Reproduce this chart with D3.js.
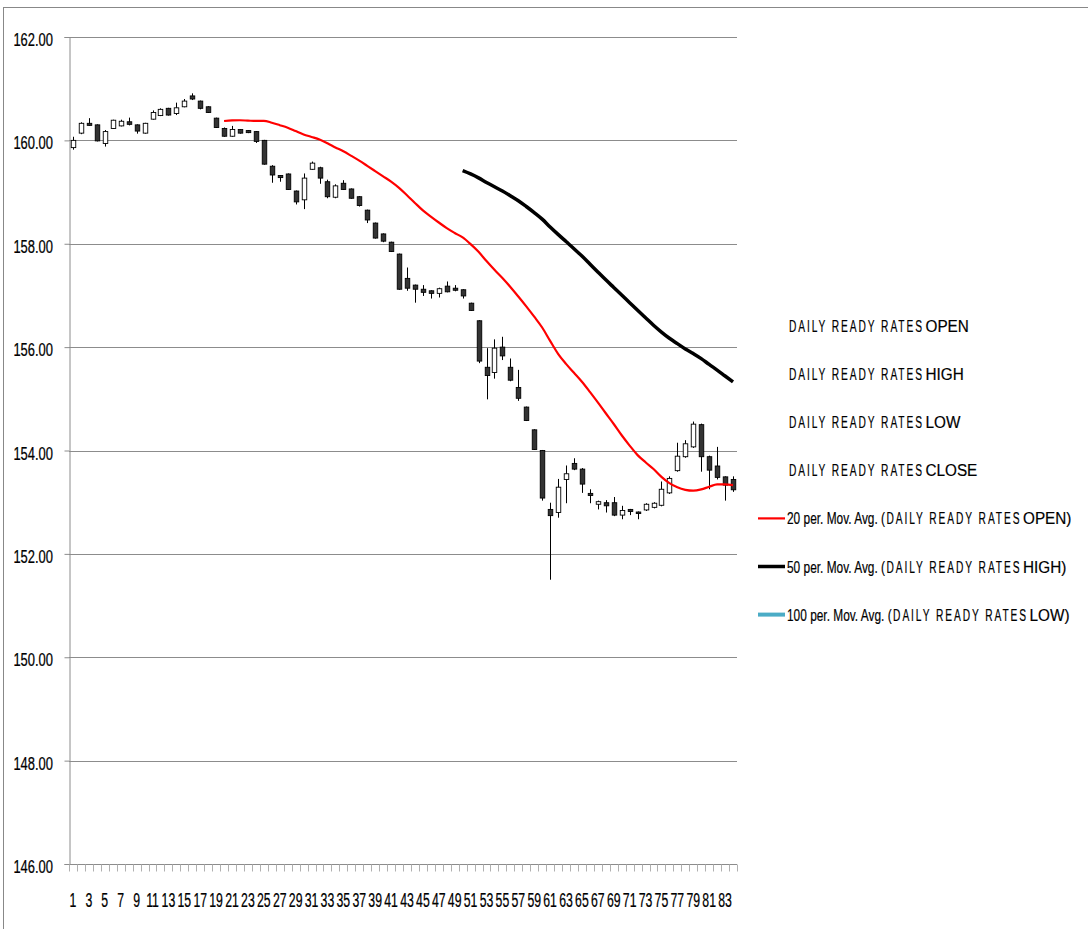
<!DOCTYPE html>
<html><head><meta charset="utf-8">
<script src="https://cdn.jsdelivr.net/npm/d3@7"></script>
<style>
html,body{margin:0;padding:0;background:#fff;}
text{font-family:"Liberation Sans",Arial,sans-serif;fill:#000;}
</style></head>
<body>
<svg id="c" width="1088" height="929"></svg>
<script>
const categories = d3.range(1, 85);
const openVals = [159.86,160.14,160.33,160.30,159.94,160.23,160.28,160.36,160.30,160.14,160.41,160.48,160.62,160.52,160.65,160.86,160.76,160.65,160.43,160.23,
160.08,160.21,160.19,160.17,160.00,159.50,159.32,159.35,159.02,158.85,159.44,159.47,159.20,158.90,159.17,159.06,158.91,158.65,158.40,158.19,
158.03,157.80,157.33,157.20,157.12,157.09,157.04,157.18,157.14,157.11,156.85,156.51,155.61,155.51,156.00,155.61,155.22,154.84,154.40,154.00,
152.86,152.80,153.44,153.75,153.64,153.17,152.96,152.99,152.99,152.75,152.86,152.81,152.85,152.90,152.94,153.18,153.61,153.88,154.07,154.50,
153.88,153.70,153.49,153.44];
const highVals = [160.07,160.35,160.43,160.31,160.20,160.40,160.40,160.44,160.31,160.34,160.58,160.62,160.63,160.73,160.80,160.91,160.77,160.66,160.44,160.25,
160.28,160.22,160.20,160.18,160.01,159.52,159.33,159.36,159.03,159.36,159.59,159.49,159.24,159.15,159.23,159.07,158.92,158.66,158.41,158.20,
158.04,157.81,157.54,157.21,157.20,157.10,157.15,157.27,157.20,157.12,156.86,156.52,155.98,156.15,156.20,155.78,155.56,154.85,154.41,154.01,
152.99,153.45,153.71,153.85,153.66,153.25,153.03,153.04,153.10,152.93,152.87,152.82,152.98,153.00,153.40,153.50,154.15,154.20,154.56,154.52,
153.90,154.07,153.50,153.50];
const lowVals = [159.82,160.12,160.28,159.98,159.88,160.22,160.27,160.29,160.13,160.13,160.40,160.47,160.48,160.49,160.64,160.78,160.60,160.53,160.24,160.07,
160.07,160.13,160.14,159.95,159.53,159.18,159.20,159.04,158.76,158.67,159.43,159.16,158.88,158.88,159.04,158.87,158.72,158.40,158.10,158.03,
157.84,157.11,157.09,156.86,156.99,156.94,156.96,157.06,157.08,156.94,156.70,155.69,154.99,155.39,155.75,155.34,154.96,154.57,154.01,153.03,
151.50,152.70,152.98,153.62,153.18,152.98,152.86,152.80,152.73,152.67,152.75,152.67,152.83,152.88,152.92,153.16,153.59,153.86,154.05,153.59,
153.25,153.44,153.03,153.20];
const closeVals = [160.00,160.33,160.29,159.99,160.17,160.39,160.37,160.31,160.18,160.33,160.54,160.60,160.49,160.63,160.76,160.80,160.62,160.54,160.25,160.08,
160.21,160.14,160.15,159.98,159.54,159.33,159.28,159.05,158.81,159.27,159.56,159.27,158.91,159.12,159.05,158.88,158.74,158.46,158.11,158.05,
157.85,157.12,157.14,157.12,157.06,157.04,157.13,157.07,157.10,156.99,156.71,155.73,155.45,155.98,155.83,155.36,155.01,154.58,154.02,153.08,
152.74,153.29,153.55,153.64,153.35,153.13,153.01,152.93,152.75,152.84,152.82,152.78,152.96,152.98,153.25,153.46,153.89,154.13,154.51,153.88,
153.62,153.48,153.33,153.24];
const yTicks = [146,148,150,152,154,156,158,160,162];
const xTickLabels = categories.filter(d => d % 2 === 1);
const legendItems = [
  {pre:"", spaced:"DAILY READY RATES", post:"OPEN", color:null},
  {pre:"", spaced:"DAILY READY RATES", post:"HIGH", color:null},
  {pre:"", spaced:"DAILY READY RATES", post:"LOW", color:null},
  {pre:"", spaced:"DAILY READY RATES", post:"CLOSE", color:null},
  {pre:"20 per. Mov. Avg. (", spaced:"DAILY READY RATES", post:"OPEN)", color:"#ff0000", w:2.2},
  {pre:"50 per. Mov. Avg. (", spaced:"DAILY READY RATES", post:"HIGH)", color:"#000000", w:3.5},
  {pre:"100 per. Mov. Avg. (", spaced:"DAILY READY RATES", post:"LOW)", color:"#4bacc6", w:4}
];

function movingAvg(vals, n){
  const out = [];
  for (let i = n-1; i < vals.length; i++) out.push({cat: categories[i], v: d3.mean(vals.slice(i-n+1, i+1))});
  return out;
}

const svg = d3.select("#c");
const L = 69, R = 737, T = 37, B = 864;
const x = d3.scaleBand().domain(categories).range([L, R]).padding(0);
const y = d3.scaleLinear().domain([146, 162]).range([B, T]);
const cx = d => x(d) + x.bandwidth()/2;

// outer border
svg.append("rect").attr("x",3.5).attr("y",7.5).attr("width",1200).attr("height",1000)
  .attr("fill","none").attr("stroke","#888").attr("stroke-width",1);

// gridlines
svg.append("g").selectAll("line").data(yTicks.filter(d=>d>146)).join("line")
  .attr("x1",L).attr("x2",R).attr("y1",d=>Math.round(y(d))+0.5).attr("y2",d=>Math.round(y(d))+0.5)
  .attr("stroke","#8c8c8c").attr("stroke-width",1);

// y axis
const yAxis = d3.axisLeft(y).tickValues(yTicks).tickFormat(d3.format(".2f")).tickSize(5).tickPadding(8);
const gy = svg.append("g").attr("transform",`translate(${L+0.5},0)`).call(yAxis);
gy.select(".domain").attr("stroke","#8c8c8c");
gy.selectAll(".tick line").attr("stroke","#8c8c8c");
const ySx = 0.70;
gy.selectAll(".tick text").attr("font-size",18.5).attr("fill","#000")
  .attr("font-family",'"Liberation Sans",Arial,sans-serif')
  .attr("stroke","#000").attr("stroke-width",0.25)
  .attr("dy",null).attr("y",8.5).attr("x",-16.5/ySx).attr("transform",`scale(${ySx},1)`);

// x axis
const gx = svg.append("g").attr("transform",`translate(0,${B+0.5})`);
gx.append("line").attr("x1",L).attr("x2",R).attr("stroke","#8c8c8c");
gx.selectAll("line.tk").data(d3.range(0,85)).join("line").attr("class","tk")
  .attr("x1",i=>Math.round(L + i*x.step())+0.5).attr("x2",i=>Math.round(L + i*x.step())+0.5)
  .attr("y1",0).attr("y2",7).attr("stroke","#b0b0b0");
const xSx = 0.63;
gx.selectAll("text").data(xTickLabels).join("text")
  .attr("transform",d=>`translate(${cx(d)},42) scale(${xSx},1)`)
  .attr("stroke","#000").attr("stroke-width",0.25)
  .attr("text-anchor","middle").attr("font-size",19.5).text(d=>d);

// candles
const cg = svg.append("g");
const bw = 4.5;
categories.forEach((c,i) => {
  const o = openVals[i], h = highVals[i], l = lowVals[i], cl = closeVals[i];
  const xc = Math.round(cx(c)) + 0.5;
  cg.append("line").attr("x1",xc).attr("x2",xc).attr("y1",y(h)).attr("y2",y(l)).attr("stroke","#000").attr("stroke-width",1);
  const top = y(Math.max(o,cl)), bot = y(Math.min(o,cl));
  cg.append("rect").attr("x",xc-bw/2).attr("y",top).attr("width",bw).attr("height",Math.max(1,bot-top))
    .attr("fill", cl >= o ? "#ffffff" : "#333333").attr("stroke","#000").attr("stroke-width",0.9);
});

// moving averages
const line = d3.line().x(d=>cx(d.cat)).y(d=>y(d.v)).curve(d3.curveMonotoneX);
svg.append("path").datum(movingAvg(openVals,20)).attr("d",line).attr("fill","none").attr("stroke","#ff0000").attr("stroke-width",2.2);
svg.append("path").datum(movingAvg(highVals,50)).attr("d",line).attr("fill","none").attr("stroke","#000").attr("stroke-width",3.5);
const ma100 = movingAvg(lowVals,100);
if (ma100.length) svg.append("path").datum(ma100).attr("d",line).attr("fill","none").attr("stroke","#4bacc6").attr("stroke-width",4);

// legend
const lg = svg.append("g");
const legY0 = 332, legDy = 48.1, fs = 17;
const preSx = 0.70, spacedSx = 0.60, spacedW = 133, postSx = 0.9;
legendItems.forEach((it,i) => {
  const yy = legY0 + i*legDy;
  let xx = it.pre ? 787 : 789;
  if (it.color) {
    lg.append("line").attr("x1",758).attr("x2",785).attr("y1",yy-6).attr("y2",yy-6).attr("stroke",it.color).attr("stroke-width",it.w);
  }
  if (it.pre) {
    const g = lg.append("g").attr("transform",`translate(${xx},${yy}) scale(${preSx},1)`);
    const t = g.append("text").attr("font-size",fs).attr("stroke","#000").attr("stroke-width",0.2).text(it.pre);
    xx += t.node().getComputedTextLength()*preSx + 1.5;
  }
  const g2 = lg.append("g").attr("transform",`translate(${xx},${yy}) scale(${spacedSx},1)`);
  g2.append("text").attr("font-size",fs).attr("stroke","#000").attr("stroke-width",0.2)
    .attr("textLength",spacedW/spacedSx).attr("lengthAdjust","spacing").text(it.spaced);
  xx += spacedW + 3.5;
  const g3 = lg.append("g").attr("transform",`translate(${xx},${yy}) scale(${postSx},1)`);
  g3.append("text").attr("font-size",fs).attr("stroke","#000").attr("stroke-width",0.2).text(it.post);
});
</script>
</body></html>
